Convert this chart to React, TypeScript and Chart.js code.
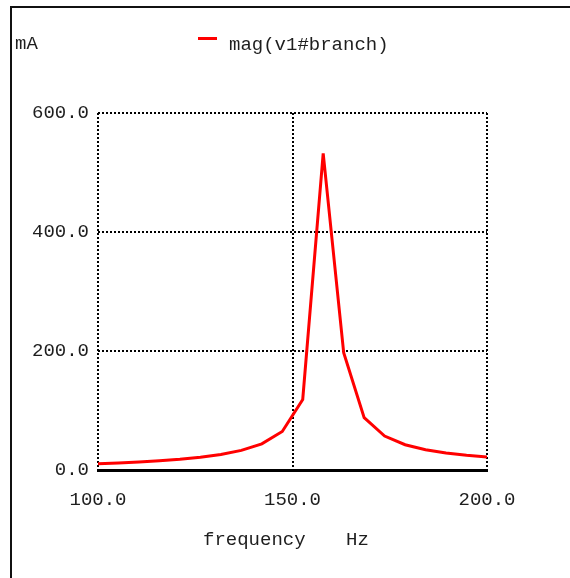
import React, { useEffect, useRef } from "react";
import { Chart, registerables } from "chart.js";

Chart.register(...registerables);

// ---- data ----
const frequencyHz = [
  100, 105.26, 110.53, 115.79, 121.05, 126.32, 131.58, 136.84, 142.11, 147.37,
  152.63, 157.89, 163.16, 168.42, 173.68, 178.95, 184.21, 189.47, 194.74, 200,
];
const currentMilliAmps = [
  10.4, 11.8, 13.4, 15.5, 18.0, 21.4, 26.1, 33.0, 44.0, 64.8,
  118.6, 532, 197, 88.0, 57.1, 42.5, 34.1, 28.5, 24.6, 21.7,
];
const xTickValues = [100, 150, 200];
const yTickValues = [0, 200, 400, 600];
const seriesLabel = "mag(v1#branch)";
const yUnitLabel = "mA";
const xTitleLabel = "frequency";
const xUnitLabel = "Hz";

const FONT_FAMILY = '"Liberation Mono", "DejaVu Sans Mono", monospace';
const TEXT_COLOR = "#1e1e1e";

const overlayPlugin = {
  id: "overlay",
  beforeDraw(chart: any) {
    const ctx = chart.ctx;
    ctx.save();
    ctx.fillStyle = "#ffffff";
    ctx.fillRect(0, 0, chart.width, chart.height);
    ctx.fillStyle = "#111111";
    ctx.fillRect(10, 6, chart.width - 10, 2);
    ctx.fillRect(10, 6, 2, chart.height - 6);
    ctx.restore();
  },
  afterDraw(chart: any) {
    const ctx = chart.ctx;
    ctx.save();
    ctx.font = `19px ${FONT_FAMILY}`;
    ctx.fillStyle = TEXT_COLOR;
    ctx.textBaseline = "middle";
    ctx.textAlign = "left";
    ctx.fillText(yUnitLabel, 15, 44);
    ctx.fillStyle = "#ff0000";
    ctx.fillRect(198, 37, 19, 3);
    ctx.fillStyle = TEXT_COLOR;
    ctx.fillText(seriesLabel, 229, 45);
    ctx.fillText(xTitleLabel, 203, 540);
    ctx.fillText(xUnitLabel, 346, 540);
    ctx.restore();
  },
};

export default function App() {
  const canvasRef = useRef<HTMLCanvasElement | null>(null);

  useEffect(() => {
    const canvas = canvasRef.current;
    if (!canvas) return;
    const points = frequencyHz.map((f, i) => ({ x: f, y: currentMilliAmps[i] }));
    const tickFont = { family: FONT_FAMILY, size: 19 };
    const chart = new Chart(canvas, {
      type: "line",
      data: {
        datasets: [
          {
            label: seriesLabel,
            data: points,
            borderColor: "#ff0000",
            backgroundColor: "#ff0000",
            borderWidth: 3,
            pointRadius: 0,
            tension: 0,
            fill: false,
          },
        ],
      },
      options: {
        responsive: false,
        animation: false,
        events: [],
        layout: { padding: { top: 113, right: 83, left: 0, bottom: 0 } },
        plugins: {
          legend: { display: false },
          tooltip: { enabled: false },
          title: { display: false },
        },
        scales: {
          x: {
            type: "linear",
            min: 100,
            max: 200,
            afterBuildTicks: (scale: any) => {
              scale.ticks = xTickValues.map((v) => ({ value: v }));
            },
            afterFit: (scale: any) => {
              scale.height = 108;
            },
            ticks: {
              font: tickFont,
              color: TEXT_COLOR,
              padding: 19,
              maxRotation: 0,
              callback: (v: any) => Number(v).toFixed(1),
            },
            grid: {
              color: "#000000",
              lineWidth: 2,
              drawTicks: false,
            },
            border: {
              display: true,
              color: "#000000",
              width: 3,
              dash: [2, 2],
            },
          },
          y: {
            type: "linear",
            min: 0,
            max: 600,
            afterBuildTicks: (scale: any) => {
              scale.ticks = yTickValues.map((v) => ({ value: v }));
            },
            afterFit: (scale: any) => {
              scale.width = 98;
            },
            ticks: {
              font: tickFont,
              color: TEXT_COLOR,
              padding: 9,
              callback: (v: any) => Number(v).toFixed(1),
            },
            grid: {
              color: "#000000",
              lineWidth: 2,
              drawTicks: false,
            },
            border: {
              display: false,
              dash: [2, 2],
            },
          },
        },
      },
      plugins: [overlayPlugin],
    } as any);
    return () => chart.destroy();
  }, []);

  return (
    <div style={{ position: "absolute", left: 0, top: 0, width: 570, height: 578, background: "#fff" }}>
      <canvas ref={canvasRef} width={570} height={578} style={{ display: "block", width: 570, height: 578 }} />
    </div>
  );
}
